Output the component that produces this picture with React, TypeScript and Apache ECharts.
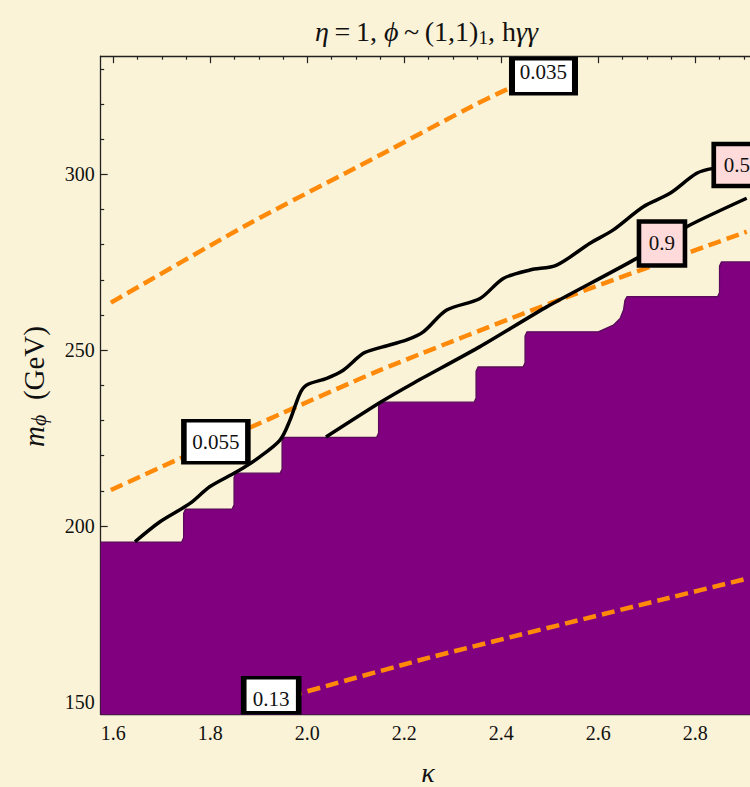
import React, { useEffect, useRef } from 'react';
import * as echarts from 'echarts';

const BG = '#FBF3D7';
const SERIF = '"Liberation Serif", "DejaVu Serif", serif';
const PURPLE = '#800080';
const ORANGE = '#FF8A0A';

// axis ranges (kappa, m_phi)
const kRange = [1.574, 2.926];
const mRange = [146.4, 333.6];
const majorK = [1.6, 1.8, 2.0, 2.2, 2.4, 2.6, 2.8];
const minorK = [1.65, 1.7, 1.75, 1.85, 1.9, 1.95, 2.05, 2.1, 2.15, 2.25, 2.3, 2.35, 2.45, 2.5, 2.55, 2.65, 2.7, 2.75, 2.85, 2.9];
const majorM = [150, 200, 250, 300];
const minorM = [160, 170, 180, 190, 210, 220, 230, 240, 260, 270, 280, 290, 310, 320, 330];

// excluded (purple) region upper boundary
const regionK = [1.574, 1.741, 1.745, 1.745, 1.749, 1.845, 1.849, 1.849, 1.853, 1.944, 1.948, 1.948, 1.952,
  2.143, 2.147, 2.147, 2.151, 2.344, 2.348, 2.348, 2.352, 2.445, 2.449, 2.449, 2.453,
  2.600, 2.631, 2.645, 2.652, 2.655, 2.659, 2.846, 2.850, 2.850, 2.854, 2.926];
const regionM = [195.4, 195.4, 196.6, 203.6, 204.8, 204.8, 206.0, 213.8, 215.0, 215.0, 216.2, 224.0, 225.2,
  225.2, 226.4, 234.0, 235.2, 235.2, 236.4, 244.0, 245.2, 245.2, 246.4, 254.0, 255.2,
  255.2, 257.1, 259.0, 261.4, 264.2, 265.2, 265.2, 266.4, 273.9, 275.1, 275.1];

// orange dashed contours
const c035K = [1.595, 1.875, 2.150, 2.325, 2.418, 2.487];
const c035M = [263.5, 285.6, 305.5, 318.3, 324.5, 326.3];
const c055K = [1.595, 1.7375, 1.882, 2.150, 2.504, 2.906];
const c055M = [210.2, 219.2, 228.0, 244.3, 263.5, 283.7];
const c13K = [1.925, 1.985, 2.253, 2.727, 2.906];
const c13M = [150.2, 152.4, 162.6, 178.9, 185.0];

// black contours
const c05K = [1.6447, 1.6963, 1.7581, 1.7994, 1.8544, 1.8984, 1.9437, 1.9643, 1.9849, 1.9988, 2.040, 2.0742,
  2.1155, 2.1499, 2.205, 2.2392, 2.2874, 2.3561, 2.4041, 2.4592, 2.5142, 2.5829, 2.6309, 2.6928, 2.7478,
  2.8029, 2.8371, 2.892];
const c05M = [195.5, 201.2, 206.4, 211.2, 215.4, 219.3, 224.4, 230.1, 237.7, 240.1, 242.0, 244.3,
  249.1, 250.7, 252.9, 255.2, 261.4, 264.7, 270.4, 272.8, 274.2, 280.4, 284.2, 290.8, 294.6,
  300.3, 301.7, 302.4];
const c09K = [2.0385, 2.1499, 2.2186, 2.3561, 2.4936, 2.6792, 2.7823, 2.906];
const c09M = [225.3, 235.1, 240.6, 251.0, 262.3, 276.1, 285.1, 293.2];

// contour label anchors
const labelText = ['0.035', '0.055', '0.13', '0.5', '0.9'];
const labelK = [2.487, 1.8115, 1.9256, 2.8855, 2.7313];
const labelM = [327.9, 223.95, 151.85, 302.65, 280.35];

const zip = (a: number[], b: number[]) => a.map((v, i) => [v, b[i]]);

function boxMark(i: number, size: number[], fill: string, dy: number) {
  return {
    symbol: 'rect',
    symbolSize: size,
    silent: true,
    itemStyle: { color: fill, borderColor: '#000', borderWidth: 4.5 },
    label: {
      show: true,
      position: 'inside',
      formatter: labelText[i],
      fontFamily: SERIF,
      fontSize: 21,
      color: '#111',
      offset: [0, dy],
    },
    data: [{ coord: [labelK[i], labelM[i]], value: labelText[i] }],
  };
}

export default function App() {
  const ref = useRef<HTMLDivElement>(null);
  useEffect(() => {
    if (!ref.current) return;
    const chart = echarts.init(ref.current, undefined, { renderer: 'svg' });
    const tickStyle = { color: '#222', width: 1.2 };
    const lineStyle = { color: '#222', width: 1.3 };
    const xBase = { type: 'value', min: kRange[0], max: kRange[1], gridIndex: 0, splitLine: { show: false } };
    const yBase = { type: 'value', min: mRange[0], max: mRange[1], gridIndex: 0, splitLine: { show: false } };
    const tickLabel = { fontFamily: SERIF, fontSize: 20, color: '#111' };
    const option: any = {
      animation: false,
      backgroundColor: BG,
      grid: { left: 100.7, top: 56.2, width: 655.7, height: 658.2, containLabel: false, outerBoundsMode: 'none' },
      xAxis: [
        { ...xBase, position: 'bottom', axisLine: { show: true, onZero: false, lineStyle },
          axisTick: { show: true, inside: true, length: 7, customValues: majorK, lineStyle: tickStyle },
          axisLabel: { show: true, customValues: majorK, formatter: (v: number) => v.toFixed(1), margin: 9, ...tickLabel } },
        { ...xBase, position: 'bottom', axisLine: { show: false },
          axisTick: { show: true, inside: true, length: 3.5, customValues: minorK, lineStyle: tickStyle },
          axisLabel: { show: false } },
        { ...xBase, position: 'top', axisLine: { show: true, onZero: false, lineStyle },
          axisTick: { show: true, inside: true, length: 7, customValues: majorK, lineStyle: tickStyle },
          axisLabel: { show: false } },
        { ...xBase, position: 'top', axisLine: { show: false },
          axisTick: { show: true, inside: true, length: 3.5, customValues: minorK, lineStyle: tickStyle },
          axisLabel: { show: false } },
      ],
      yAxis: [
        { ...yBase, position: 'left', axisLine: { show: true, onZero: false, lineStyle },
          axisTick: { show: true, inside: true, length: 7, customValues: majorM, lineStyle: tickStyle },
          axisLabel: { show: true, customValues: majorM, margin: 6, ...tickLabel } },
        { ...yBase, position: 'left', axisLine: { show: false },
          axisTick: { show: true, inside: true, length: 3.5, customValues: minorM, lineStyle: tickStyle },
          axisLabel: { show: false } },
      ],
      series: [
        {
          type: 'line', name: 'excluded', data: zip(regionK, regionM), symbol: 'none', z: 1,
          lineStyle: { color: '#5a0a5a', width: 1.3 },
          areaStyle: { color: PURPLE, opacity: 1, origin: 'start' },
        },
        {
          type: 'line', name: '0.035', data: zip(c035K, c035M), symbol: 'none', z: 3, smooth: 0.2,
          lineStyle: { color: ORANGE, width: 4.5, type: [13, 6] },
          markPoint: boxMark(0, [63, 35], '#fff', -4),
        },
        {
          type: 'line', name: '0.055', data: zip(c055K, c055M), symbol: 'none', z: 3, smooth: 0.2,
          lineStyle: { color: ORANGE, width: 4.5, type: [13, 6] },
          markPoint: boxMark(1, [64, 42], '#fff', 0),
        },
        {
          type: 'line', name: '0.13', data: zip(c13K, c13M), symbol: 'none', z: 3, smooth: 0.2,
          lineStyle: { color: ORANGE, width: 4.5, type: [13, 6] },
          markPoint: boxMark(2, [55, 35], '#fff', 4),
        },
        {
          type: 'line', name: '0.5', data: zip(c05K, c05M), symbol: 'none', z: 4, smooth: 0.3,
          lineStyle: { color: '#000', width: 3.5 },
          markPoint: boxMark(3, [46, 42], '#FFDADA', 0),
        },
        {
          type: 'line', name: '0.9', data: zip(c09K, c09M), symbol: 'none', z: 4, smooth: 0.2,
          lineStyle: { color: '#000', width: 3.5 },
          markPoint: boxMark(4, [46, 44], '#FFDADA', 0),
        },
      ],
      graphic: [
        {
          type: 'text', x: 426.5, y: 31, silent: true,
          style: {
            text: '{i|η}{n|\u2009=\u20091, }{i|ϕ}{n|\u2009~\u2009(1,1)}{s|1}{n|, h}{i|γγ}',
            align: 'center', verticalAlign: 'middle',
            rich: {
              n: { fontFamily: SERIF, fontSize: 28, lineHeight: 32, fill: '#111' },
              i: { fontFamily: SERIF, fontSize: 28, lineHeight: 32, fontStyle: 'italic', fill: '#111' },
              s: { fontFamily: SERIF, fontSize: 19, lineHeight: 19, verticalAlign: 'bottom', fill: '#111' },
            },
          },
        },
        {
          type: 'text', x: 34, y: 386.5, rotation: Math.PI / 2, silent: true,
          style: {
            text: '{m|m}{s|ϕ}{n|  (GeV)}',
            align: 'center', verticalAlign: 'middle',
            rich: {
              m: { fontFamily: SERIF, fontSize: 29, lineHeight: 30, fontStyle: 'italic', fill: '#111' },
              s: { fontFamily: SERIF, fontSize: 22, lineHeight: 22, fontStyle: 'italic', verticalAlign: 'bottom', fill: '#111' },
              n: { fontFamily: SERIF, fontSize: 29, lineHeight: 30, fill: '#111' },
            },
          },
        },
        {
          type: 'text', x: 428, y: 772, silent: true,
          style: {
            text: 'κ', fontFamily: SERIF, fontSize: 28, fontStyle: 'italic', fill: '#111',
            align: 'center', verticalAlign: 'middle',
          },
        },
      ],
    };
    chart.setOption(option);
    return () => chart.dispose();
  }, []);
  return (
    <div
      ref={ref}
      style={{ position: 'fixed', left: 0, top: 0, width: 750, height: 787, background: BG }}
    />
  );
}
